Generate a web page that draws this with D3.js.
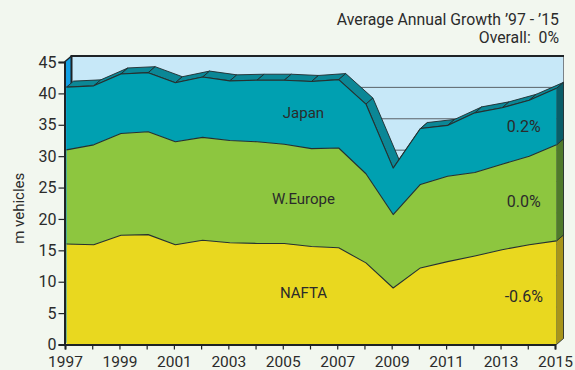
<!DOCTYPE html>
<html>
<head>
<meta charset="utf-8">
<script src="https://cdn.jsdelivr.net/npm/d3@7"></script>
<style>
  html, body { margin: 0; padding: 0; background: #f2f7ef; }
  svg { display: block; }
  text { font-family: Roboto, "Liberation Sans", sans-serif; fill: #2b2b2b; white-space: pre; }
</style>
</head>
<body>
<svg id="chart" width="575" height="370"></svg>
<script>
// Light vehicle production by region, million vehicles
const years   = d3.range(1997, 2016);
const nafta   = [16.0, 15.9, 17.4, 17.5, 15.9, 16.6, 16.2, 16.1, 16.1, 15.6, 15.4, 13.0, 9.0, 12.2, 13.2, 14.1, 15.1, 15.9, 16.5];
const weurope = [15.0, 15.9, 16.2, 16.4, 16.4, 16.4, 16.3, 16.2, 15.8, 15.6, 15.9, 14.2, 11.7, 13.3, 13.6, 13.3, 13.6, 14.1, 15.3];
const japan   = [10.0,  9.4,  9.5,  9.4,  9.4,  9.6,  9.5,  9.8, 10.2, 10.7, 10.9, 11.1,  7.4,  8.9,  8.1,  9.5,  9.0,  8.9,  9.0];
const seriesNames  = ["NAFTA", "W.Europe", "Japan"];
const growthLabels = ["-0.6%", "0.0%", "0.2%"];
const yTicks = [0, 5, 10, 15, 20, 25, 30, 35, 40, 45];
const xTickLabels = years.filter(y => (y - 1997) % 2 === 0);

const svg = d3.select("#chart");

const frontColors = ["#e9d81f", "#8dc63f", "#00a0b1"];
const sideColors  = ["#a8951a", "#4f7a2b", "#0a5d68"];
const topColor = "#0b8796";

// depth offset of the 3D box
const dx = 7, dy = -6;

const x = d3.scaleLinear().domain([1997, 2015]).range([66.5, 556.5]);
const xAxisScale = d3.scaleLinear().domain([1997, 2015]).range([65, 555]);
const y = d3.scaleLinear().domain([0, 45]).range([344.5, 62]);

const rows = years.map((yr, i) => ({ year: yr, NAFTA: nafta[i], "W.Europe": weurope[i], Japan: japan[i] }));
const stacked = d3.stack().keys(seriesNames)(rows);

const x0 = xAxisScale(1997) - 0.5, x1 = x(2015);

// back wall
svg.append("rect")
  .attr("x", x0 + dx).attr("y", y(45) + dy)
  .attr("width", x1 - x0).attr("height", y(0) - y(45))
  .attr("fill", "#c7e8f8");

// gridlines on the back wall
svg.append("g").selectAll("line").data(yTicks.filter(t => t > 0 && t < 45)).join("line")
  .attr("x1", x0 + dx).attr("x2", x1 + dx)
  .attr("y1", d => y(d) + dy).attr("y2", d => y(d) + dy)
  .attr("stroke", "#5a6268").attr("stroke-width", 1);

svg.append("line")
  .attr("x1", x1 + dx).attr("x2", x1 + dx)
  .attr("y1", y(45) + dy).attr("y2", y(0) + dy)
  .attr("stroke", "#7a8288").attr("stroke-width", 1);

// left wall
svg.append("path")
  .attr("d", `M${x0},${y(45)} L${x0 + dx},${y(45) + dy} L${x0 + dx},${y(0) + dy} L${x0},${y(0)} Z`)
  .attr("fill", "#12a0e4");
svg.append("line")
  .attr("x1", x0 + dx).attr("x2", x0 + dx)
  .attr("y1", y(45) + dy).attr("y2", y(0) + dy)
  .attr("stroke", "#1e2326").attr("stroke-width", 2);
svg.append("line")
  .attr("x1", x0 + dx - 1).attr("x2", x1 + dx + 0.5)
  .attr("y1", y(45) + dy).attr("y2", y(45) + dy)
  .attr("stroke", "#1e2326").attr("stroke-width", 2.2);
svg.append("line")
  .attr("x1", x0).attr("x2", x0 + dx)
  .attr("y1", y(45)).attr("y2", y(45) + dy)
  .attr("stroke", "#1e2326").attr("stroke-width", 1.5);

// top surface of the stack, one facet per year interval
const topSeries = stacked[stacked.length - 1];
const facets = d3.range(topSeries.length - 1).map(i => [
  [x(years[i]), y(topSeries[i][1])],
  [x(years[i + 1]), y(topSeries[i + 1][1])],
  [x(years[i + 1]) + dx, y(topSeries[i + 1][1]) + dy],
  [x(years[i]) + dx, y(topSeries[i][1]) + dy]
]);
svg.append("g").selectAll("path").data(facets).join("path")
  .attr("d", d => "M" + d.join("L") + "Z")
  .attr("fill", topColor)
  .attr("stroke", "#1f2a2c").attr("stroke-width", 0.9).attr("stroke-linejoin", "round");

// right side faces
const last = topSeries.length - 1;
svg.append("g").selectAll("path").data(stacked).join("path")
  .attr("d", s => {
    const lo = y(s[last][0]), hi = y(s[last][1]);
    return `M${x1},${lo} L${x1},${hi} L${x1 + dx},${hi + dy} L${x1 + dx},${lo + dy} Z`;
  })
  .attr("fill", (s, i) => sideColors[i])
  .attr("stroke", "#1f2a2c").attr("stroke-width", 0.8);

// front faces of the stacked areas
const area = d3.area()
  .x(d => x(d.data.year))
  .y0(d => y(d[0]))
  .y1(d => y(d[1]));
svg.append("g").selectAll("path").data(stacked).join("path")
  .attr("d", area)
  .attr("fill", (s, i) => frontColors[i]);

const topLine = d3.line().x(d => x(d.data.year)).y(d => y(d[1]));
svg.append("g").selectAll("path").data(stacked).join("path")
  .attr("d", topLine)
  .attr("fill", "none")
  .attr("stroke", "#26302f").attr("stroke-width", 1.1).attr("stroke-linejoin", "round");

// axes
const yAxis = d3.axisLeft(y).tickValues(yTicks).tickSize(6).tickPadding(2);
const gy = svg.append("g").attr("transform", `translate(${x0},0)`).call(yAxis);
gy.select(".domain").attr("stroke", "#1e2326").attr("stroke-width", 2);
gy.selectAll(".tick line").attr("stroke", "#1e2326").attr("stroke-width", 1.2);
gy.selectAll(".tick text").attr("font-size", 16).attr("fill", "#2b2b2b")
  .style("font-family", "Roboto, 'Liberation Sans', sans-serif");

const xAxis = d3.axisBottom(xAxisScale).tickValues(years).tickSize(5).tickPadding(6)
  .tickFormat(d => xTickLabels.includes(d) ? String(d) : "");
const gx = svg.append("g").attr("transform", `translate(0,${y(0)})`).call(xAxis);
gx.select(".domain").attr("stroke", "#1e2326").attr("stroke-width", 2);
gx.selectAll(".tick line").attr("stroke", "#1e2326").attr("stroke-width", 1.2);
gx.selectAll(".tick text").attr("font-size", 15.5).attr("fill", "#2b2b2b")
  .style("font-family", "Roboto, 'Liberation Sans', sans-serif");

// axis title
svg.append("text")
  .attr("transform", `translate(24,${y(22.5) + 5}) rotate(-90)`)
  .attr("text-anchor", "middle").attr("font-size", 15)
  .text("m vehicles");

// series names and growth rates
const nameLevels = [8.2, 23.2, 36.9];
const growthLevels = [7.7, 22.8, 34.8];
const midX = x(2006) - 8;
svg.append("g").selectAll("text").data(seriesNames).join("text")
  .attr("x", midX).attr("y", (d, i) => y(nameLevels[i]) + 5)
  .attr("text-anchor", "middle").attr("font-size", 15)
  .text(d => d);
svg.append("g").selectAll("text").data(growthLabels).join("text")
  .attr("x", x(2013.8)).attr("y", (d, i) => y(growthLevels[i]) + 5.5)
  .attr("text-anchor", "middle").attr("font-size", 16)
  .text(d => d);

// header note
svg.append("text").attr("x", 559).attr("y", 25).attr("text-anchor", "end")
  .attr("font-size", 15.8).text("Average Annual Growth \u201997 - \u201915");
svg.append("text").attr("x", 559).attr("y", 43).attr("text-anchor", "end")
  .attr("font-size", 15.8).text("Overall:\u00a0\u00a00%");
</script>
</body>
</html>
